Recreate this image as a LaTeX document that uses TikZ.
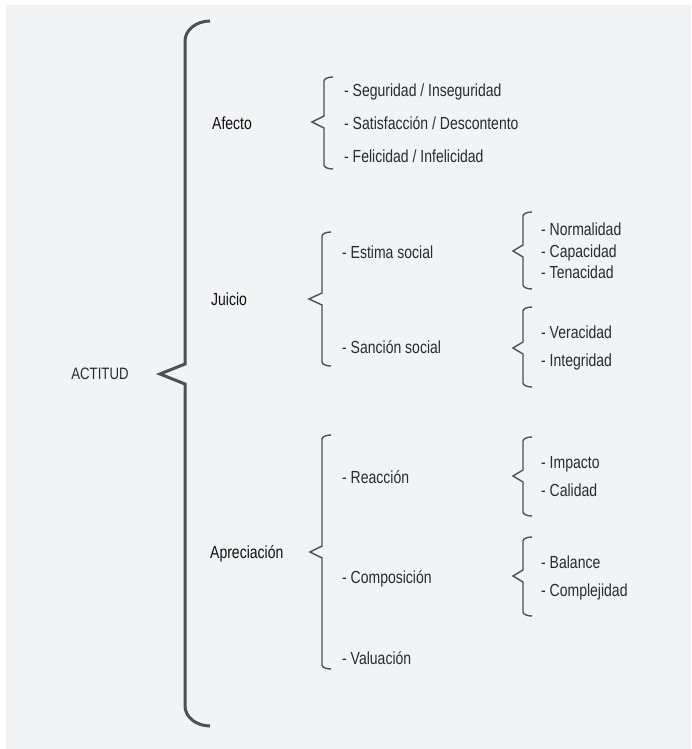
\documentclass[tikz,border=0pt]{standalone}
\usepackage{fontspec}
\setmainfont{Liberation Sans}[FakeStretch=0.8]
\definecolor{bgc}{HTML}{F2F3F5}
\definecolor{bracec}{HTML}{4F5052}
\definecolor{txtc}{HTML}{2A2B2D}
\definecolor{headc}{HTML}{111111}
% #1 x, #2 top, #3 bottom, #4 tipx, #5 tipy, #6 endx, #7 r, #8 d, #9 style
\newcommand\mybrace[9]{%
  \draw[#9] (#6,#2) .. controls ({#1+0.45*(#6-#1)},#2) and (#1,{#2+0.45*#7}) .. (#1,#2+#7)
    -- (#1,#5-#8) -- (#4,#5) -- (#1,#5+#8) -- (#1,#3-#7)
    .. controls (#1,{#3-0.45*#7}) and ({#1+0.45*(#6-#1)},#3) .. (#6,#3);}
\tikzset{
  bigbrace/.style={draw=bracec, line width=3pt, line join=miter},
  smallbrace/.style={draw=bracec, line width=1.4pt, line join=miter},
  item/.style={anchor=base west, inner sep=0pt, text=txtc, font=\fontsize{17.5}{19}\selectfont},
  head/.style={anchor=base west, inner sep=0pt, text=headc, font=\fontsize{17.5}{19}\selectfont},
}
\begin{document}
\begin{tikzpicture}[x=1pt,y=-1pt]
\useasboundingbox (0,0) rectangle (691,749);
\fill[bgc] (6,5) rectangle (691,749);
% main brace
\mybrace{185}{21}{726}{160}{374}{210}{20}{10}{bigbrace}
\node[anchor=center, inner sep=0pt, text=txtc, font=\fontsize{16.5}{18}\selectfont] (actitud) at (100,374) {ACTITUD};
% level 1
\node[head] (afecto) at (212,129) {Afecto};
\node[head] (juicio) at (211,305) {Juicio};
\node[head] (apre) at (210,558) {Apreciación};
% Afecto
\mybrace{324}{77}{169}{312}{122}{333}{4}{6}{smallbrace}
\node[item] (seg) at (344,97) {- Seguridad / Inseguridad};
\node[item] (sat) at (344,129) {- Satisfacción / Descontento};
\node[item] (fel) at (344,162) {- Felicidad / Infelicidad};
% Juicio
\mybrace{322}{232}{366}{309}{299}{331}{4}{6}{smallbrace}
\node[item] (estima) at (342,258) {- Estima social};
\node[item] (sancion) at (342,353) {- Sanción social};
\mybrace{523}{212}{289}{513}{251}{532}{4}{6}{smallbrace}
\node[item] (norm) at (541,235) {- Normalidad};
\node[item] (cap) at (541,257) {- Capacidad};
\node[item] (ten) at (541,278) {- Tenacidad};
\mybrace{523}{307}{387}{513}{348}{532}{4}{6}{smallbrace}
\node[item] (ver) at (541,338) {- Veracidad};
\node[item] (integ) at (541,366) {- Integridad};
% Apreciacion
\mybrace{322}{435}{669}{310}{552}{331}{4}{6}{smallbrace}
\node[item] (reac) at (342,483) {- Reacción};
\node[item] (comp) at (342,583) {- Composición};
\node[item] (val) at (342,664) {- Valuación};
\mybrace{523}{437}{516}{513}{476}{532}{4}{6}{smallbrace}
\node[item] (imp) at (541,468) {- Impacto};
\node[item] (cal) at (541,496) {- Calidad};
\mybrace{523}{537}{616}{513}{576}{532}{4}{6}{smallbrace}
\node[item] (bal) at (541,568) {- Balance};
\node[item] (compl) at (541,596) {- Complejidad};
\end{tikzpicture}
\end{document}
